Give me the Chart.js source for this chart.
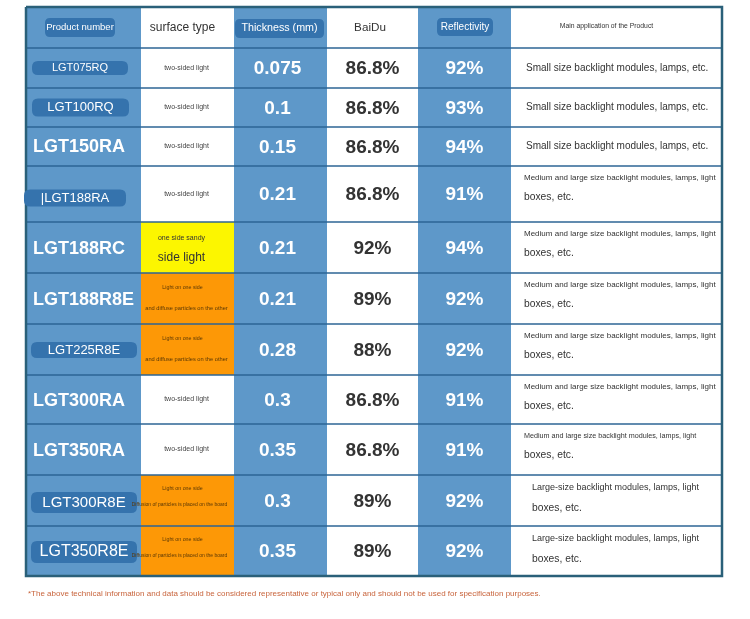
<!DOCTYPE html>
<html><head><meta charset="utf-8">
<script src="https://cdn.jsdelivr.net/npm/chart.js@4.4.1/dist/chart.umd.min.js"></script>
<style>html,body{margin:0;padding:0;background:#fff;}#wrap{width:750px;height:619px;}</style>
</head><body><div id="wrap"><canvas id="c" width="750" height="619"></canvas></div>
<script>
// ---------- DATA ----------
const headers = ['Product number', 'surface type', 'Thickness (mm)', 'BaiDu', 'Reflectivity', 'Main application of the Product'];
const productNumbers = ['LGT075RQ', 'LGT100RQ', 'LGT150RA', '|LGT188RA', 'LGT188RC', 'LGT188R8E', 'LGT225R8E', 'LGT300RA', 'LGT350RA', 'LGT300R8E', 'LGT350R8E'];
const surfaceTypes = [
  'two-sided light', 'two-sided light', 'two-sided light', 'two-sided light',
  'one side sandy\nside light',
  'Light on one side\nand diffuse particles on the other',
  'Light on one side\nand diffuse particles on the other',
  'two-sided light', 'two-sided light',
  'Light on one side\nDiffusion of particles is placed on the board',
  'Light on one side\nDiffusion of particles is placed on the board'
];
const thickness = [0.075, 0.1, 0.15, 0.21, 0.21, 0.21, 0.28, 0.3, 0.35, 0.3, 0.35];
const baidu = [86.8, 86.8, 86.8, 86.8, 92, 89, 88, 86.8, 86.8, 89, 89];
const reflectivity = [92, 93, 94, 91, 94, 92, 92, 91, 91, 92, 92];
const applications = [
  'Small size backlight modules, lamps, etc.',
  'Small size backlight modules, lamps, etc.',
  'Small size backlight modules, lamps, etc.',
  'Medium and large size backlight modules, lamps, light\nboxes, etc.',
  'Medium and large size backlight modules, lamps, light\nboxes, etc.',
  'Medium and large size backlight modules, lamps, light\nboxes, etc.',
  'Medium and large size backlight modules, lamps, light\nboxes, etc.',
  'Medium and large size backlight modules, lamps, light\nboxes, etc.',
  'Medium and large size backlight modules, lamps, light\nboxes, etc.',
  'Large-size backlight modules, lamps, light\nboxes, etc.',
  'Large-size backlight modules, lamps, light\nboxes, etc.'
];
const footnote = '*The above technical information and data should be considered representative or typical only and should not be used for specification purposes.';

// ---------- LAYOUT / STYLE ----------
const columnWidths = [115, 93, 93, 91, 93, 211];
const rowHeights = [41, 40, 39, 39, 56, 51, 51, 51, 49, 51, 51, 50];
const colEdges = [0]; columnWidths.forEach(w => colEdges.push(colEdges[colEdges.length - 1] + w));
const rowEdges = [0]; rowHeights.forEach(h => rowEdges.push(rowEdges[rowEdges.length - 1] + h));
const TOTAL_W = colEdges[colEdges.length - 1], TOTAL_H = rowEdges[rowEdges.length - 1];

const FONT = '"Liberation Sans", Arial, Helvetica, sans-serif';
const BLUE = '#5e98c9', PILL = '#3573ad', WHITE = '#ffffff', LINE = '#2c6595', BORDER = '#2a6079';
const columnFill = [BLUE, WHITE, BLUE, WHITE, BLUE, WHITE];
function surfaceFill(t) {
  if (t.startsWith('one side sandy')) return '#fcf600';
  if (t.startsWith('Light on one side')) return '#fd9806';
  return WHITE;
}
const headerStyle = [
  {size: 9.5, color: '#fff', pill: [70, 19], dx: -3.5, dy: 0},
  {size: 12, color: '#333', dx: -5, dy: 0.5},
  {size: 10.7, color: '#fff', pill: [89, 19], dx: -1, dy: 1},
  {size: 11.7, color: '#333', dx: -2.5, dy: 0.5},
  {size: 10, color: '#fff', pill: [56, 18], dx: 0.5, dy: -0.5},
  {size: 6.8, color: '#333', dx: -10, dy: -1.5}
];
const productLabelStyle = [
  {size: 11, pill: [96, 14], cx: 54, dy: 0},
  {size: 13, pill: [97, 18], cx: 54.5, dy: 0},
  {size: 18, bold: true, left: 7, dy: 0.5},
  {size: 13, pill: [102, 17], cx: 49, dy: 4},
  {size: 18, bold: true, left: 7, dy: 1.5},
  {size: 18, bold: true, left: 7, dy: 1.5},
  {size: 13, pill: [106, 16], cx: 58, dy: 0.5},
  {size: 18, bold: true, left: 7, dy: 2},
  {size: 18, bold: true, left: 7, dy: 2},
  {size: 15, pill: [106, 21], cx: 58, dy: 2},
  {size: 16, pill: [106, 22], cx: 58, dy: 1}
];

// ---------- DATASETS (cells, separators, border) ----------
const datasets = [];
for (let r = 0; r < rowHeights.length; r++) {
  for (let c = 0; c < columnWidths.length; c++) {
    let color = columnFill[c];
    if (c === 1 && r > 0) color = surfaceFill(surfaceTypes[r - 1]);
    datasets.push({
      data: [{x: colEdges[c], y: rowEdges[r]}, {x: colEdges[c + 1], y: rowEdges[r]}],
      fill: {value: rowEdges[r + 1]},
      backgroundColor: color, borderWidth: 0, pointRadius: 0, order: 10
    });
  }
}
for (let r = 1; r < rowHeights.length; r++) {
  datasets.push({
    data: [{x: 0, y: rowEdges[r]}, {x: TOTAL_W, y: rowEdges[r]}],
    fill: false, borderColor: LINE, borderWidth: 1.3, pointRadius: 0, order: 1
  });
}
datasets.push({
  data: [{x: 0, y: 0}, {x: TOTAL_W, y: 0}, {x: TOTAL_W, y: TOTAL_H}, {x: 0, y: TOTAL_H}, {x: 0, y: 0}],
  fill: false, borderColor: BORDER, borderWidth: 2.5, pointRadius: 0, order: 0, clip: false
});

// ---------- TEXT PLUGIN ----------
function roundRect(ctx, x, y, w, h, r) {
  ctx.beginPath();
  ctx.moveTo(x + r, y); ctx.lineTo(x + w - r, y); ctx.quadraticCurveTo(x + w, y, x + w, y + r);
  ctx.lineTo(x + w, y + h - r); ctx.quadraticCurveTo(x + w, y + h, x + w - r, y + h);
  ctx.lineTo(x + r, y + h); ctx.quadraticCurveTo(x, y + h, x, y + h - r);
  ctx.lineTo(x, y + r); ctx.quadraticCurveTo(x, y, x + r, y); ctx.closePath();
}
const tablePlugin = {
  id: 'tableText',
  afterDatasetsDraw(chart) {
    const ctx = chart.ctx, xs = chart.scales.x, ys = chart.scales.y;
    const cell = (r, c) => ({
      l: xs.getPixelForValue(colEdges[c]), r: xs.getPixelForValue(colEdges[c + 1]),
      t: ys.getPixelForValue(rowEdges[r]), b: ys.getPixelForValue(rowEdges[r + 1])
    });
    const txt = (s, x, y, size, color, bold, align) => {
      ctx.font = (bold ? 'bold ' : '') + size + 'px ' + FONT;
      ctx.fillStyle = color; ctx.textAlign = align || 'center'; ctx.textBaseline = 'middle';
      ctx.fillText(s, x, y);
    };
    ctx.save();
    // header
    headers.forEach((h, c) => {
      const k = cell(0, c), st = headerStyle[c];
      const cx = (k.l + k.r) / 2 + st.dx, cy = (k.t + k.b) / 2 + st.dy;
      if (st.pill) { ctx.fillStyle = PILL; roundRect(ctx, cx - st.pill[0] / 2, cy - st.pill[1] / 2, st.pill[0], st.pill[1], 5); ctx.fill(); }
      txt(h, cx, cy, st.size, st.color, false);
    });
    for (let i = 0; i < productNumbers.length; i++) {
      const r = i + 1;
      // product number
      let k = cell(r, 0); const ps = productLabelStyle[i];
      const cy0 = (k.t + k.b) / 2 + ps.dy;
      if (ps.pill) {
        const cx = k.l + ps.cx;
        ctx.fillStyle = PILL; roundRect(ctx, cx - ps.pill[0] / 2, cy0 - ps.pill[1] / 2, ps.pill[0], ps.pill[1], 6); ctx.fill();
        txt(productNumbers[i], cx, cy0, ps.size, '#fff', false);
      } else {
        txt(productNumbers[i], k.l + ps.left, cy0, ps.size, '#fff', true, 'left');
      }
      // surface type
      k = cell(r, 1);
      const scx = (k.l + k.r) / 2, lines = surfaceTypes[i].split('\n');
      if (lines.length === 1) {
        txt(lines[0], scx - 1, (k.t + k.b) / 2, 7, '#444', false);
      } else if (lines[0].startsWith('one side sandy')) {
        txt(lines[0], scx - 6, k.t + 16, 7, '#333', false);
        txt(lines[1], scx - 6, k.t + 36, 12, '#333', false);
      } else if (lines[1].startsWith('and')) {
        txt(lines[0], scx - 5, k.t + 15, 5.3, '#5a3806', false);
        txt(lines[1], scx - 1, k.t + 35, 5.7, '#5a3806', false);
      } else {
        txt(lines[0], scx - 5, k.t + 14, 5.3, '#5a3806', false);
        txt(lines[1], scx - 8, k.t + 30, 5, '#5a3806', false);
      }
      // thickness
      k = cell(r, 2);
      txt(String(thickness[i]), (k.l + k.r) / 2 - 3, (k.t + k.b) / 2 + 1, 19, '#fff', true);
      // baidu
      k = cell(r, 3);
      txt(baidu[i] + '%', (k.l + k.r) / 2, (k.t + k.b) / 2 + 1, 19, '#333', true);
      // reflectivity
      k = cell(r, 4);
      txt(reflectivity[i] + '%', (k.l + k.r) / 2, (k.t + k.b) / 2 + 1, 19, '#fff', true);
      // application
      k = cell(r, 5);
      const al = applications[i].split('\n');
      if (al.length === 1) {
        txt(al[0], k.l + 15, (k.t + k.b) / 2, 10, '#333', false, 'left');
      } else if (al[0].startsWith('Large')) {
        txt(al[0], k.l + 21, k.t + 13, 9, '#333', false, 'left');
        txt(al[1], k.l + 21, k.t + 33, 10.3, '#333', false, 'left');
      } else {
        txt(al[0], k.l + 13, k.t + 12, i === 8 ? 7.2 : 8, '#333', false, 'left');
        txt(al[1], k.l + 13, k.t + 31, 10.3, '#333', false, 'left');
      }
    }
    // footnote
    const ca = chart.chartArea;
    txt(footnote, ca.left + 2, ca.bottom + 18, 8, '#c8643c', false, 'left');
    ctx.restore();
  }
};

new Chart(document.getElementById('c'), {
  type: 'line',
  data: {datasets},
  options: {
    responsive: false, animation: false, devicePixelRatio: 1,
    layout: {padding: {left: 26, top: 7, right: 750 - 26 - TOTAL_W, bottom: 619 - 7 - TOTAL_H}},
    scales: {
      x: {type: 'linear', display: false, min: 0, max: TOTAL_W},
      y: {type: 'linear', display: false, min: 0, max: TOTAL_H, reverse: true}
    },
    plugins: {legend: {display: false}, tooltip: {enabled: false}},
    elements: {line: {tension: 0}}
  },
  plugins: [tablePlugin]
});
</script></body></html>
